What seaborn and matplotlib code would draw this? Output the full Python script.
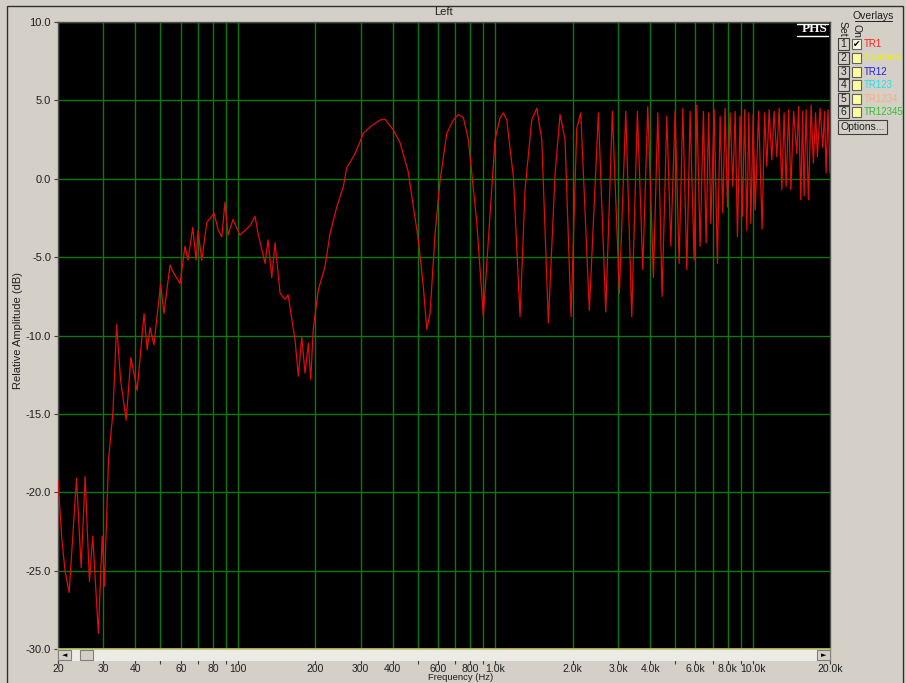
import matplotlib
matplotlib.use("Agg")
import matplotlib.pyplot as plt
from matplotlib.patches import Rectangle
from matplotlib.lines import Line2D
import seaborn as sns
import pandas as pd

# ---------------- data ----------------
freq_hz = [20.0, 20.7, 21.3, 22.1, 23.6, 24.6, 25.5, 26.5, 27.3, 28.7, 29.7, 30.3, 31.4,
           32.7, 33.8, 35.0, 36.8, 38.4, 40.6, 43.2, 44.4, 45.6, 47.2, 50.1, 51.6, 54.5,
           55.8, 59.6, 62.3, 64.0, 66.8, 68.8, 70.0, 72.4, 75.7, 80.8, 84.0, 86.6, 89.1,
           91.6, 95.7, 101.9, 111.5, 116.6, 119.8, 127.5, 131.0, 135.4, 139.5, 145.9,
           152.5, 156.7, 166.8, 171.8, 177.1, 182.4, 187.9, 191.9, 196.5, 205.4, 218.1,
           228.1, 242.2, 257.0, 264.9, 285.5, 307.4, 326.4, 356.9, 373.2, 401.9, 426.8,
           459.7, 480.8, 502.8, 525.8, 542.1, 558.4, 583.9, 610.6, 648.4, 687.6, 719.1,
           752.0, 786.4, 848.0, 899.6, 940.6, 998.6, 1044, 1076, 1109, 1177, 1249, 1306,
           1387, 1451, 1517, 1609, 1709, 1787, 1868, 1971, 2074, 2150, 2322, 2518, 2689,
           2853, 3038, 3217, 3394, 3569, 3746, 3917, 4119, 4285, 4452, 4644, 4813, 5002,
           5184, 5359, 5555, 5721, 5929, 6074, 6256, 6444, 6602, 6751, 6886, 7092, 7304,
           7483, 7665, 7825, 7987, 8183, 8383, 8558, 8736, 8949, 9136, 9317, 9503, 9674,
           9849, 10053, 10235, 10560, 10895, 11143, 11363, 11601, 11885, 12131, 12427,
           12687, 12997, 13267, 13507, 13812, 14088, 14444, 14865, 15104, 15403, 15654,
           15864, 16152, 16487, 16890, 17244, 17579, 17865, 18302, 18750, 19054, 19310,
           19660, 20000]
level_db = [-19.2, -23.0, -25.0, -26.4, -19.1, -24.8, -19.0, -25.7, -22.8, -29.0, -22.8, -26.0, -18.0,
            -14.9, -9.3, -12.8, -15.4, -11.4, -13.5, -8.6, -10.9, -9.5, -10.6, -6.7, -8.6, -5.5,
            -5.9, -6.7, -4.3, -5.2, -3.1, -5.2, -3.3, -5.2, -2.8, -2.2, -3.3, -3.7, -1.5,
            -3.6, -2.6, -3.6, -3.0, -2.4, -3.5, -5.4, -3.9, -6.3, -4.1, -7.3,
            -7.7, -7.4, -10.3, -12.6, -10.1, -12.4, -10.5, -12.8, -9.5, -7.1, -5.6,
            -3.5, -1.8, -0.5, 0.7, 1.6, 2.9, 3.3, 3.75, 3.8, 3.1, 2.3,
            0.4, -1.8, -3.9, -6.9, -9.6, -8.6, -3.5, -0.1, 2.9, 3.75, 4.1,
            3.9, 2.5, -2.8, -8.8, -3.9, 2.5, 3.9, 4.2, 3.75, 0.1, -8.8, -0.7,
            3.75, 4.5, 2.5, -9.2, 0.35, 4.1, 2.5, -8.8, 3.2, 4.2, -8.4, 4.2, -8.5,
            4.3, -7.3, 4.3, -8.8, 4.3, -5.8, 4.6, -6.3, 4.2, -7.5, 4.0, -4.3, 4.3,
            -5.4, 4.5, -5.8, 4.3, -5.2, 4.7, -4.3, 4.3, -4.1, 4.2, -2.85, 4.4, -5.4,
            4.0, -2.2, 4.5, -1.8, 4.2, -0.5, 4.3, -3.7, 4.0, -2.4, 4.4, -3.3, 4.2,
            -2.85, 4.1, -2.0, 4.3, -3.2, 4.2, 0.8, 4.4, 1.2, 4.3, 1.4,
            4.5, -0.7, 4.2, -0.5, 4.4, -0.7, 4.3, 1.6, 4.6, -1.35, 4.3,
            -1.1, 4.4, -1.35, 4.7, 1.0, 4.2, 1.4, 4.5, 2.0, 4.3, 0.35,
            4.4, 0.35]

x_tick_vals = [20, 30, 40, 60, 80, 100, 200, 300, 400, 600, 800, 1000, 2000, 3000, 4000,
               6000, 8000, 10000, 20000]
x_tick_labels = ["20", "30", "40", "60", "80", "100", "200", "300", "400", "600", "800",
                 "1.0k", "2.0k", "3.0k", "4.0k", "6.0k", "8.0k", "10.0k", "20.0k"]
x_minor_vals = [50, 70, 90, 500, 700, 900, 5000, 7000, 9000]
x_grid_vals = [20, 30, 40, 50, 60, 70, 80, 90, 100, 200, 300, 400, 500, 600, 700, 800, 900,
               1000, 2000, 3000, 4000, 5000, 6000, 7000, 8000, 9000, 10000]
y_tick_vals = [10, 5, 0, -5, -10, -15, -20, -25, -30]
y_tick_labels = ["10.0", "5.0", "0.0", "-5.0", "-10.0", "-15.0", "-20.0", "-25.0", "-30.0"]

overlay_names = ["TR1", "T parlank", "TR12", "TR123", "TR1234", "TR12345"]
overlay_colors = ["#ff2020", "#f0f000", "#2020e0", "#20e0f0", "#f8b080", "#30c030"]
overlay_checked = [True, False, False, False, False, False]

# ---------------- figure ----------------
W, H = 906, 683
BG = "#d4d0c8"
FONT = "Liberation Sans"

def fx(x):
    return x / W

def fy(y):
    return 1 - y / H

sns.set_style("dark")
plt.rcParams["font.family"] = [FONT, "DejaVu Sans"]

fig = plt.figure(figsize=(W / 100, H / 100), dpi=100, facecolor=BG)
ax = fig.add_axes([fx(58), fy(649), fx(830) - fx(58), fy(22) - fy(649)])
ax.set_facecolor("black")

df = pd.DataFrame({"freq": freq_hz, "db": level_db})
sns.lineplot(data=df, x="freq", y="db", ax=ax, color="#e00c0c", lw=0.9,
             estimator=None, sort=False, zorder=5)

ax.set_xscale("log")
ax.set_xlim(20, 20000)
ax.set_ylim(-30, 10)

for g in x_grid_vals:
    ax.axvline(g, color="#0b7a0b", lw=1.0, zorder=1)
for g in y_tick_vals:
    ax.axhline(g, color="#0b7a0b", lw=1.0, zorder=1)
ax.grid(False)

ax.set_xticks(x_tick_vals)
ax.set_xticklabels(x_tick_labels)
ax.set_xticks(x_minor_vals, minor=True)
ax.set_xticklabels([], minor=True)
ax.tick_params(axis="x", which="both", direction="out", length=10.5, width=0.8,
               color="#404040", pad=0.5, labelsize=7.5, labelcolor="#202020", bottom=True)
ax.set_yticks(y_tick_vals)
ax.set_yticklabels(y_tick_labels)
ax.tick_params(axis="y", direction="out", length=3, width=0.8, color="#404040",
               pad=2, labelsize=8, labelcolor="#202020", left=True)
ax.set_xlabel("")
ax.set_ylabel("")

for s in ["left", "right", "top"]:
    ax.spines[s].set_visible(True)
    ax.spines[s].set_color("#505050")
    ax.spines[s].set_linewidth(1.0)
ax.spines["bottom"].set_visible(True)
ax.spines["bottom"].set_color("#c8c860")
ax.spines["bottom"].set_linewidth(1.2)

# scrollbar (drawn over the tick stems)
def frect(x0, y0, x1, y1, fc, ec="none", lw=0.8, z=1.5):
    r = Rectangle((fx(x0), fy(y1)), fx(x1) - fx(x0), fy(y0) - fy(y1),
                  transform=fig.transFigure, facecolor=fc, edgecolor=ec, lw=lw, zorder=z)
    fig.add_artist(r)
    return r

frect(57.5, 649.5, 830.5, 660.5, "#ecebe6")
frect(58, 650, 71, 660, "#d4d0c8", "#808080", z=1.6)
frect(80, 650, 93, 660, "#d4d0c8", "#808080", z=1.6)
frect(817, 650, 830, 660, "#d4d0c8", "#808080", z=1.6)
fig.text(fx(64.5), fy(655), "◄", fontsize=5, ha="center", va="center",
         family="DejaVu Sans", color="black", zorder=3)
fig.text(fx(823.5), fy(655), "►", fontsize=5, ha="center", va="center",
         family="DejaVu Sans", color="black", zorder=3)

# outer window border
frect(7, 6, 903, 700, "none", "#303030", lw=1.0, z=0.5)

# texts
fig.text(fx(443), fy(12), "Left", fontsize=8, ha="center", va="center", color="#202020")
fig.text(fx(18), fy(330), "Relative Amplitude (dB)", fontsize=8, rotation=90,
         ha="center", va="center", color="#202020")
fig.text(fx(461), fy(682.5), "Frequency (Hz)", fontsize=6.8, ha="center", va="bottom",
         color="#202020")

# PHS logo
fig.text(fx(828), fy(29.5), "PHS", fontsize=9.5, ha="right", va="center", color="white",
         family=["Liberation Serif", "DejaVu Serif"], weight="bold", zorder=4)
fig.add_artist(Line2D([fx(797), fx(828)], [fy(24), fy(24)], color="white", lw=1,
                      transform=fig.transFigure, zorder=4))
fig.add_artist(Line2D([fx(797), fx(828)], [fy(35.5), fy(35.5)], color="white", lw=1,
                      transform=fig.transFigure, zorder=4))

# overlays panel
fig.text(fx(873), fy(16), "Overlays", fontsize=7.5, ha="center", va="center", color="#202020")
fig.add_artist(Line2D([fx(855), fx(892)], [fy(21), fy(21)], color="#202020", lw=0.7,
                      transform=fig.transFigure))
fig.text(fx(843), fy(29), "Set", fontsize=7.5, rotation=270, ha="center", va="center",
         color="#202020")
fig.text(fx(856), fy(31), "On", fontsize=7.5, rotation=270, ha="center", va="center",
         color="#202020")
row_y = [44, 58, 72, 85, 99, 112]
for i, (nm, col, chk) in enumerate(zip(overlay_names, overlay_colors, overlay_checked)):
    yy = row_y[i]
    frect(838, yy - 6, 849, yy + 6, "#d4d0c8", "#404040", lw=0.8, z=2)
    fig.text(fx(843.5), fy(yy), str(i + 1), fontsize=7.5, ha="center", va="center",
             color="#202020", zorder=3)
    frect(852, yy - 5, 861, yy + 5, "#ffffa0" if not chk else "#ffffe0", "#606060",
          lw=0.8, z=2)
    if chk:
        fig.text(fx(856.5), fy(yy), "✔", fontsize=6.5, ha="center", va="center",
                 family="DejaVu Sans", color="black", zorder=3)
    fig.text(fx(864), fy(yy), nm, fontsize=6.5 if len(nm) > 7 else 7, ha="left",
             va="center", color=col, zorder=3)

frect(838, 120, 887, 134, "#d4d0c8", "#404040", lw=0.8, z=2)
fig.text(fx(862.5), fy(127), "Options...", fontsize=7.5, ha="center", va="center",
         color="#202020", zorder=3)

fig.savefig("out.png", dpi=100, facecolor=BG)
